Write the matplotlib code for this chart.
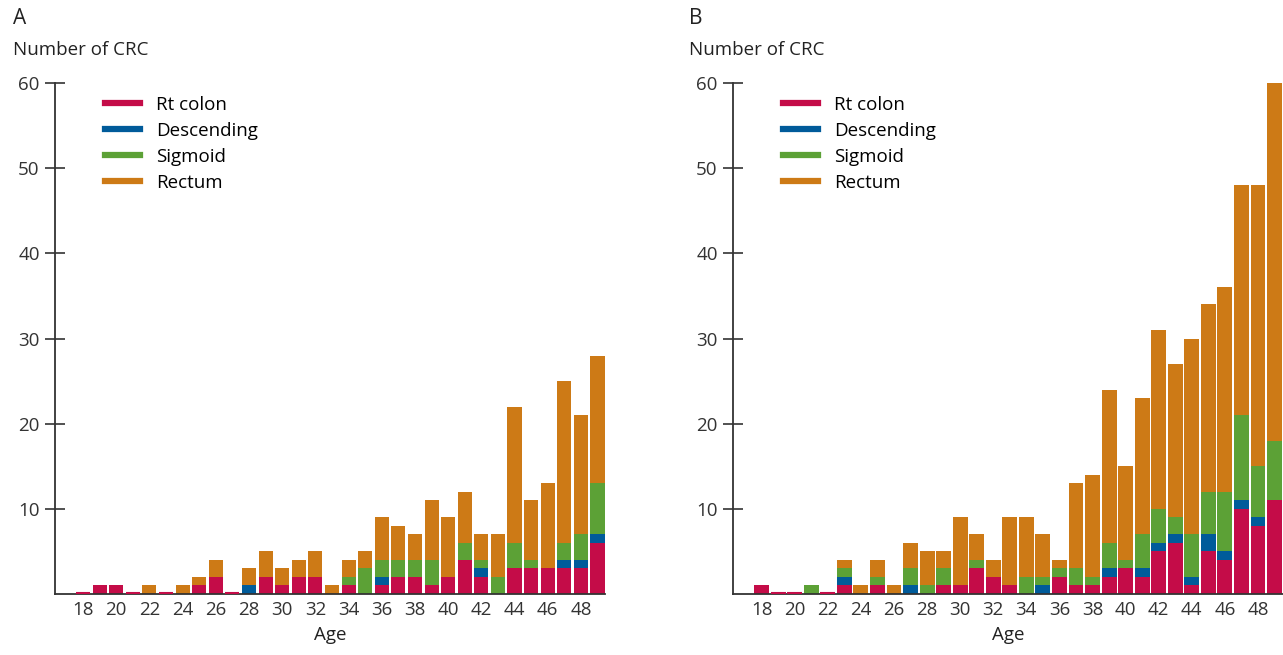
import matplotlib.pyplot as plt
from matplotlib.lines import Line2D
import numpy as np

plt.rcParams['font.family'] = ['Open Sans', 'DejaVu Sans']

ages = np.arange(18, 50)
tick_ages = list(range(18, 49, 2))
series = ["Rt colon", "Descending", "Sigmoid", "Rectum"]
colors = ["#C40C48", "#005B9A", "#5CA136", "#CD7A16"]

# Panel A counts by site (ages 18..49)
a_rt   = [0, 1, 1, 0, 0, 0, 0, 1, 2, 0, 0, 2, 1, 2, 2, 0, 1, 0, 1, 2, 2, 1, 2, 4, 2, 0, 3, 3, 3, 3, 3, 6]
a_desc = [0, 0, 0, 0, 0, 0, 0, 0, 0, 0, 1, 0, 0, 0, 0, 0, 0, 0, 1, 0, 0, 0, 0, 0, 1, 0, 0, 0, 0, 1, 1, 1]
a_sig  = [0, 0, 0, 0, 0, 0, 0, 0, 0, 0, 0, 0, 0, 0, 0, 0, 1, 3, 2, 2, 2, 3, 0, 2, 1, 2, 3, 1, 0, 2, 3, 6]
a_rect = [0, 0, 0, 0, 1, 0, 1, 1, 2, 0, 2, 3, 2, 2, 3, 1, 2, 2, 5, 4, 3, 7, 7, 6, 3, 5, 16, 7, 10, 19, 14, 15]

# Panel B counts by site (ages 18..49)
b_rt   = [1, 0, 0, 0, 0, 1, 0, 1, 0, 0, 0, 1, 1, 3, 2, 1, 0, 0, 2, 1, 1, 2, 3, 2, 5, 6, 1, 5, 4, 10, 8, 11]
b_desc = [0, 0, 0, 0, 0, 1, 0, 0, 0, 1, 0, 0, 0, 0, 0, 0, 0, 1, 0, 0, 0, 1, 0, 1, 1, 1, 1, 2, 1, 1, 1, 0]
b_sig  = [0, 0, 0, 1, 0, 1, 0, 1, 0, 2, 1, 2, 0, 1, 0, 0, 2, 1, 1, 2, 1, 3, 1, 4, 4, 2, 5, 5, 7, 10, 6, 7]
b_rect = [0, 0, 0, 0, 0, 1, 1, 2, 1, 3, 4, 2, 8, 3, 2, 8, 7, 5, 1, 10, 12, 18, 11, 16, 21, 18, 23, 22, 24, 27, 33, 42]

fig = plt.figure(figsize=(12.83, 6.55), dpi=100)
ax_a = fig.add_axes([55 / 1283, 61 / 655, 550 / 1283, 511 / 655])
ax_b = fig.add_axes([733 / 1283, 61 / 655, 550 / 1283, 511 / 655])

panels = [
    (ax_a, [a_rt, a_desc, a_sig, a_rect], 0.85, (16.31, 49.45)),
    (ax_b, [b_rt, b_desc, b_sig, b_rect], 0.9, (16.27, 49.51)),
]

for ax, data, width, xlim in panels:
    data = [np.array(d) for d in data]
    total = sum(data)
    bottom = np.zeros(len(ages))
    for i, (vals, c) in enumerate(zip(data, colors)):
        ax.bar(ages, vals, width=width, bottom=bottom, color=c, linewidth=0)
        bottom += vals
    # empty ages show a thin crimson stub on the baseline
    empty = ages[total == 0]
    ax.hlines(np.full(len(empty), 0.12), empty - width / 2, empty + width / 2,
              color=colors[0], lw=1.5, zorder=3)

    ax.set_xlim(*xlim)
    ax.set_ylim(0, 60)
    ax.set_yticks([10, 20, 30, 40, 50, 60])
    ax.set_xticks(tick_ages)
    ax.tick_params(axis="y", direction="inout", length=14, width=1.2,
                   colors="#333333", labelsize=13.5, pad=4)
    ax.tick_params(axis="x", length=0, labelsize=13.5, colors="#333333", pad=5)
    for side in ["top", "right"]:
        ax.spines[side].set_visible(False)
    ax.spines["left"].set_color("#333333")
    ax.spines["left"].set_linewidth(1.3)
    ax.spines["bottom"].set_color("#333333")
    ax.spines["bottom"].set_linewidth(1.3)
    ax.set_xlabel("Age", fontsize=13.5, color="#222222", labelpad=5)

    handles = [Line2D([0], [0], color=c, lw=4.5) for c in colors]
    ax.legend(handles, series, loc="upper left", bbox_to_anchor=(0.077, 0.99),
              frameon=False, fontsize=13.5, handlelength=1.9, handletextpad=0.85,
              labelspacing=0.43, borderaxespad=0)

fig.text(13 / 1283, 1 - 18 / 655, "A", fontsize=15, color="#222222", va="center")
fig.text(689 / 1283, 1 - 18 / 655, "B", fontsize=15, color="#222222", va="center")
fig.text(13 / 1283, 1 - 50 / 655, "Number of CRC", fontsize=13.5, color="#222222", va="center")
fig.text(689 / 1283, 1 - 50 / 655, "Number of CRC", fontsize=13.5, color="#222222", va="center")

fig.savefig("out.png", dpi=100)
